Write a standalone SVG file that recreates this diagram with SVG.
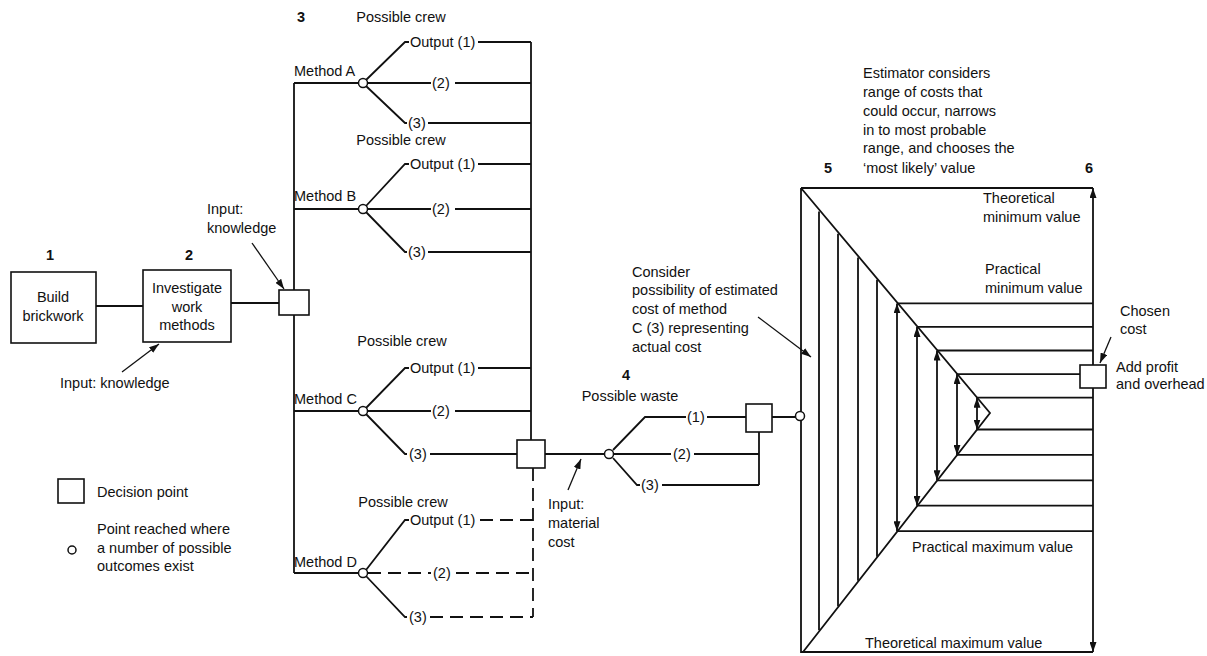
<svg xmlns="http://www.w3.org/2000/svg" width="1207" height="656" viewBox="0 0 1207 656">
<style>
text{font-family:"Liberation Sans",Arial,sans-serif;font-size:14.5px;fill:#111}
.b{font-weight:bold}
.m{text-anchor:middle}
.ln{stroke:#111;stroke-width:1.8;fill:none}
.dash{stroke:#111;stroke-width:1.8;fill:none;stroke-dasharray:13 7}
.thin{stroke:#111;stroke-width:1.3;fill:none}
.box{fill:#fff;stroke:#111;stroke-width:1.6}
.dot{fill:#fff;stroke:#111;stroke-width:1.5}
</style>
<defs>
<marker id="ah" viewBox="0 0 10 7" refX="10" refY="3.5" markerUnits="userSpaceOnUse" markerWidth="10" markerHeight="7" orient="auto-start-reverse">
<path d="M0,0 L10,3.5 L0,7 z" fill="#111"/>
</marker>
</defs>

<g id="connectors">
<line class="ln" x1="96" y1="306" x2="143" y2="306"/>
<line class="ln" x1="231" y1="303" x2="279" y2="303"/>
<line class="thin" x1="122" y1="372" x2="159" y2="344" marker-end="url(#ah)"/>
<line class="thin" x1="252" y1="243" x2="284" y2="289" marker-end="url(#ah)"/>
<line class="ln" x1="294" y1="83" x2="294" y2="573"/>
<line class="ln" x1="531" y1="42" x2="531" y2="440"/>
<line class="dash" x1="533" y1="468" x2="533" y2="617"/>

<path class="ln" d="M294,83 H359 M366,80 L405,42 H409 M478,42 H531 M367,83 H431 M455,83 H531 M366,86 L405,123 H407 M428,123 H531"/>
<path class="ln" d="M294,209 H358 M366,206 L405,164 H409 M478,164 H531 M367,209 H431 M455,209 H531 M366,212 L405,252 H407 M428,252 H531"/>
<path class="ln" d="M294,411 H358 M366,408 L405,368 H409 M478,368 H531 M367,411 H431 M455,411 H531 M366,414 L405,454 H407 M430,454 H517"/>
<path class="ln" d="M294,573 H358 M366,570 L405,520 H409 M366,576 L405,617 H407"/>
<path class="dash" d="M480,520 H533 M368,573 H431 M456,573 H533 M430,617 H533"/>

<line class="ln" x1="545" y1="454" x2="605" y2="454"/>
<line class="thin" x1="568" y1="490" x2="581" y2="459" marker-end="url(#ah)"/>
<path class="ln" d="M613,450 L645,417 H686 M707,417 H746 M614,454 H671 M694,454 H759 M613,458 L637,485 H640 M662,485 H759 M759,432 V485 M772,417 H796"/>
<line class="thin" x1="758" y1="317" x2="811" y2="357" marker-end="url(#ah)"/>

<path class="ln" d="M801,188 H1093 M801,188 V653 M801,652 H1093 M801,188 L990,413 L803,652"/>
<path class="ln" d="M819,211.4 V630.3 M838,233.8 V606.2 M858,257.4 V580.8 M877,279.8 V556.7"/>
<line class="ln" x1="897" y1="303.4" x2="897" y2="531.2" marker-start="url(#ah)" marker-end="url(#ah)"/>
<line class="ln" x1="917" y1="326.9" x2="917" y2="505.7" marker-start="url(#ah)" marker-end="url(#ah)"/>
<line class="ln" x1="937" y1="350.5" x2="937" y2="480.3" marker-start="url(#ah)" marker-end="url(#ah)"/>
<line class="ln" x1="957" y1="374.1" x2="957" y2="454.9" marker-start="url(#ah)" marker-end="url(#ah)"/>
<line class="ln" x1="977" y1="397.7" x2="977" y2="429.5" marker-start="url(#ah)" marker-end="url(#ah)"/>
<path class="ln" d="M897,303.4 H1093 M917,326.9 H1093 M937,350.5 H1093 M957,374.1 H1093 M977,397.7 H1093 M977,429.5 H1093 M957,454.9 H1093 M937,480.3 H1093 M917,505.7 H1093 M897,531.2 H1093"/>
<line class="ln" x1="1093" y1="188" x2="1093" y2="652" marker-start="url(#ah)" marker-end="url(#ah)"/>
<line class="thin" x1="1111" y1="337" x2="1100" y2="363" marker-end="url(#ah)"/>
</g>

<g id="node1">
<text class="b m" x="50" y="260">1</text>
<rect class="box" x="11" y="272" width="85" height="71"/>
<text class="m" x="53" y="302">Build</text>
<text class="m" x="53" y="321">brickwork</text>
</g>

<g id="node2">
<text class="b m" x="189" y="260">2</text>
<rect class="box" x="143" y="270" width="88" height="72"/>
<text class="m" x="187" y="293">Investigate</text>
<text class="m" x="187" y="312">work</text>
<text class="m" x="187" y="330">methods</text>
<text x="60" y="388">Input:  knowledge</text>
</g>

<g id="decision3">
<rect class="box" x="279" y="290" width="30" height="25"/>
<text x="207" y="214">Input:</text>
<text x="207" y="233">knowledge</text>
<text class="b m" x="301" y="22">3</text>
</g>

<g id="methodA">
<text class="m" x="401" y="22">Possible crew</text>
<text x="294" y="76">Method A</text>
<circle class="dot" cx="363" cy="83" r="4.5"/>
<text x="410" y="47">Output (1)</text>
<text x="432" y="88">(2)</text>
<text x="408" y="128">(3)</text>
</g>

<g id="methodB">
<text class="m" x="401" y="145">Possible crew</text>
<text x="294" y="201">Method B</text>
<circle class="dot" cx="363" cy="209" r="4.5"/>
<text x="410" y="169">Output (1)</text>
<text x="432" y="214">(2)</text>
<text x="408" y="257">(3)</text>
</g>

<g id="methodC">
<text class="m" x="402" y="346">Possible crew</text>
<text x="294" y="404">Method C</text>
<circle class="dot" cx="363" cy="411" r="4.5"/>
<text x="410" y="373">Output (1)</text>
<text x="432" y="416">(2)</text>
<text x="409" y="459">(3)</text>
</g>

<g id="methodD">
<text class="m" x="403" y="507">Possible crew</text>
<text x="294" y="567">Method D</text>
<circle class="dot" cx="363" cy="573" r="4.5"/>
<text x="410" y="525">Output (1)</text>
<text x="433" y="578">(2)</text>
<text x="409" y="622">(3)</text>
</g>

<g id="decisionC3">
<rect class="box" x="517" y="440" width="28" height="28"/>
<text x="548" y="509">Input:</text>
<text x="548" y="528">material</text>
<text x="548" y="547">cost</text>
</g>

<g id="waste4">
<text class="b m" x="626" y="380">4</text>
<text class="m" x="630" y="401">Possible waste</text>
<circle class="dot" cx="609" cy="454" r="4.5"/>
<text x="687" y="422">(1)</text>
<text x="673" y="459">(2)</text>
<text x="641" y="490">(3)</text>
<rect class="box" x="746" y="404" width="26" height="28"/>
</g>

<g id="consider">
<text x="632" y="277">Consider</text>
<text x="632" y="295">possibility of estimated</text>
<text x="632" y="314">cost of method</text>
<text x="632" y="333">C (3) representing</text>
<text x="632" y="352">actual cost</text>
</g>

<g id="range5">
<circle class="dot" cx="800" cy="416" r="4.5"/>
<text class="b m" x="828" y="173">5</text>
<text x="863" y="78">Estimator considers</text>
<text x="863" y="97">range of costs that</text>
<text x="863" y="116">could occur, narrows</text>
<text x="863" y="135">in to most probable</text>
<text x="863" y="153">range, and chooses the</text>
<text x="863" y="173">‘most likely’ value</text>
<text x="983" y="203">Theoretical</text>
<text x="983" y="222">minimum value</text>
<text x="985" y="274">Practical</text>
<text x="985" y="293">minimum value</text>
<text x="912" y="552">Practical maximum value</text>
<text x="865" y="648">Theoretical maximum value</text>
</g>

<g id="decision6">
<text class="b m" x="1089" y="173">6</text>
<rect class="box" x="1080" y="365" width="26" height="23"/>
<text x="1120" y="316">Chosen</text>
<text x="1120" y="334">cost</text>
<text x="1116" y="372">Add profit</text>
<text x="1116" y="389">and overhead</text>
</g>

<g id="legend">
<rect class="box" x="58" y="479" width="26" height="24"/>
<text x="97" y="497">Decision point</text>
<circle class="dot" cx="72" cy="550" r="4"/>
<text x="97" y="534">Point reached where</text>
<text x="97" y="553">a number of possible</text>
<text x="97" y="571">outcomes exist</text>
</g>
</svg>
